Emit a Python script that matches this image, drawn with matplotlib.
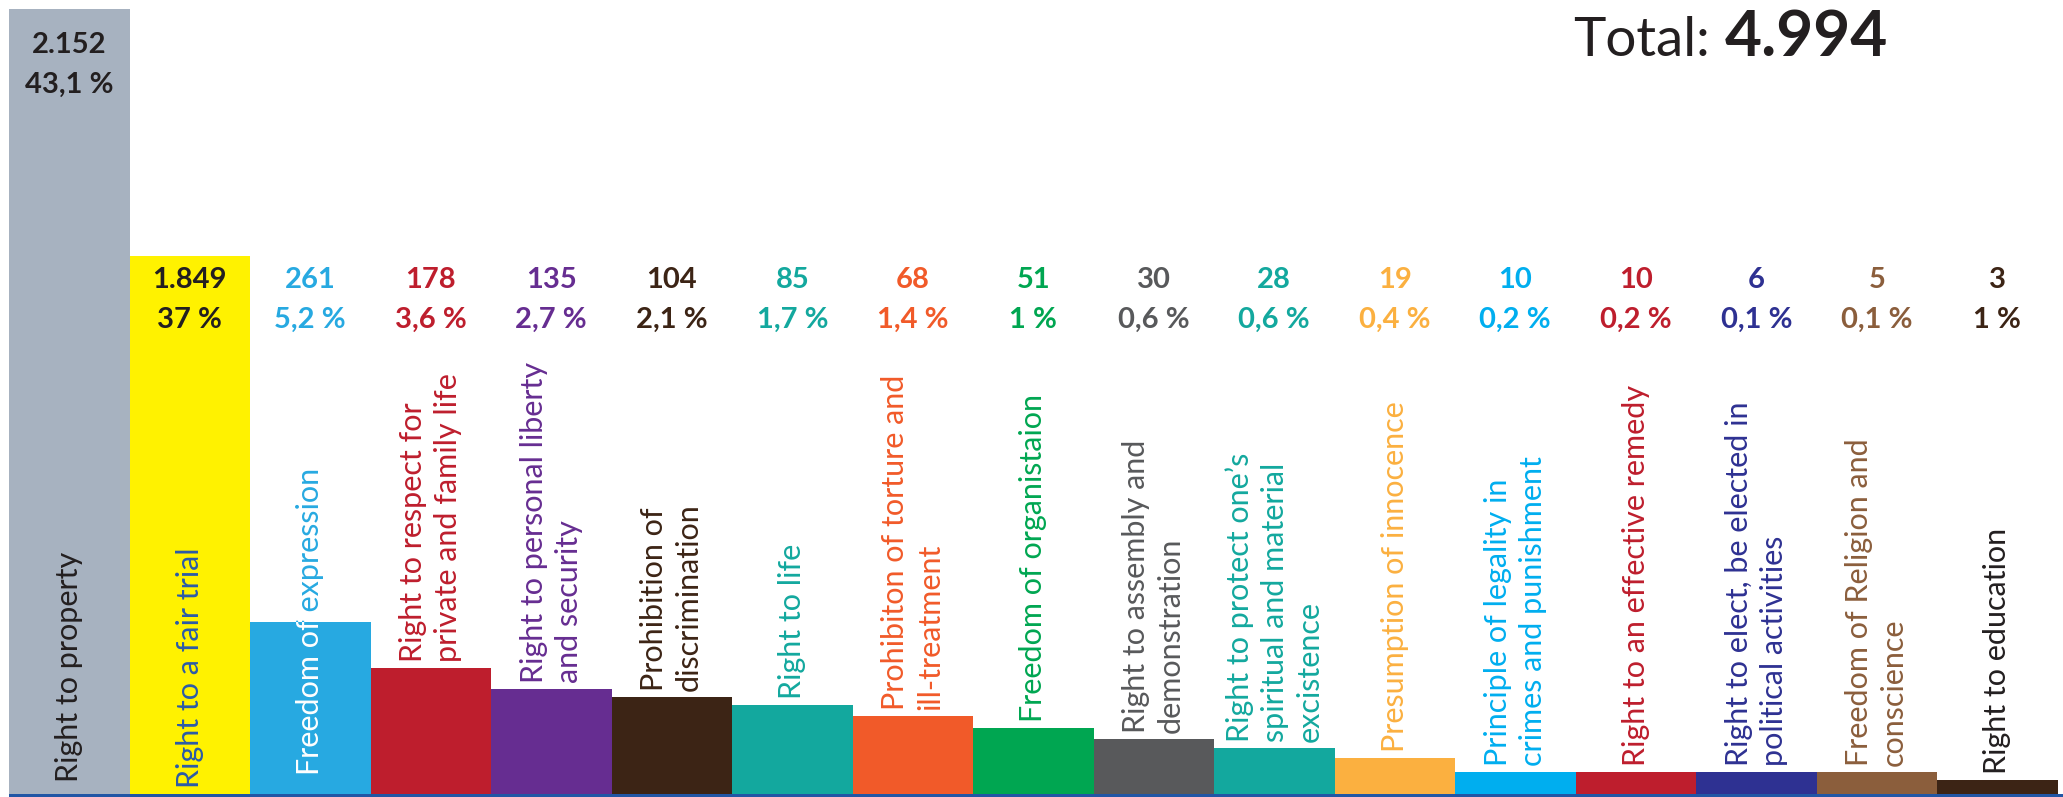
import matplotlib
matplotlib.use('Agg')
import matplotlib.pyplot as plt
from matplotlib.patches import Rectangle

plt.rcParams['font.family'] = ['Lato', 'DejaVu Sans']

# data
categories = [
    "Right to property",
    "Right to a fair trial",
    "Freedom of expression",
    "Right to respect for\nprivate and family life",
    "Right to personal liberty\nand security",
    "Prohibition of\ndiscrimination",
    "Right to life",
    "Prohibiton of torture and\nill-treatment",
    "Freedom of organistaion",
    "Right to assembly and\ndemonstration",
    "Right to protect one\u2019s\nspiritual and material\nexcistence",
    "Presumption of innocence",
    "Principle of legality in\ncrimes and punishment",
    "Right to an effective remedy",
    "Right to elect, be elected in\npolitical activities",
    "Freedom of Religion and\nconscience",
    "Right to education",
]
values = [2152, 1849, 261, 178, 135, 104, 85, 68, 51, 30, 28, 19, 10, 10, 6, 5, 3]
pct_labels = ["43,1 %", "37 %", "5,2 %", "3,6 %", "2,7 %", "2,1 %", "1,7 %", "1,4 %",
              "1 %", "0,6 %", "0,6 %", "0,4 %", "0,2 %", "0,2 %", "0,1 %", "0,1 %", "1 %"]
total = 4994
# drawn bar heights (the infographic is not to scale), in pixels of the original
bar_heights = [785, 538, 172, 126, 105, 97, 89, 78, 66, 55, 46, 36, 22, 22, 22, 22, 14]

bar_colors = ['#a7b2c0', '#fff200', '#27a9e1', '#be1e2d', '#662d91', '#3c2415',
              '#13a89e', '#f15a29', '#00a651', '#58595b', '#13a89e', '#fbb040',
              '#00aeef', '#be1e2d', '#2e3192', '#8b5e3c', '#3c2415']
label_colors = ['#231f20', '#2b5ba8', '#27a9e1', '#be1e2d', '#662d91', '#3c2415',
                '#13a89e', '#f15a29', '#00a651', '#58595b', '#13a89e', '#fbb040',
                '#00aeef', '#be1e2d', '#2e3192', '#8b5e3c', '#231f20']
value_colors = ['#231f20', '#231f20'] + bar_colors[2:16] + ['#3c2415']

W, H = 2063, 797
fig = plt.figure(figsize=(W / 100, H / 100), dpi=100)
ax = fig.add_axes([0, 0, 1, 1])
bw = 120.5
x0 = 9
ax.set_xlim(-x0 / bw, (W - x0) / bw)
ax.set_ylim(-3, H - 3)
ax.axis('off')

xs = [i + 0.5 for i in range(len(values))]
bars = ax.bar(xs, bar_heights, width=1.0, color=bar_colors, linewidth=0)

# blue baseline
ax.add_patch(Rectangle((0, -3), (W - x0) / bw, 3, color='#2156a5', lw=0, clip_on=False))

inside = {0: 12, 1: 6, 2: 19}
for i, (x, h, lab) in enumerate(zip(xs, bar_heights, categories)):
    y = inside.get(i, h + 6)
    kw = dict(rotation=90, ha='center', va='bottom', multialignment='left',
              fontsize=22, linespacing=1.3)
    ax.text(x, y, lab, color=label_colors[i], **kw)
    if i == 2:
        # part of the label inside the bar is white
        tw = ax.text(x, y, lab, color='white', clip_on=True, **kw)
        tw.set_clip_path(bars[i])

# value labels
for i, (x, v, p) in enumerate(zip(xs, values, pct_labels)):
    ny, py = (749, 709) if i == 0 else (514, 474)
    ax.text(x, ny, f"{v:,}".replace(',', '.'), ha='center', va='center',
            fontsize=21, fontweight='bold', color=value_colors[i])
    ax.text(x, py, p, ha='center', va='center',
            fontsize=21, fontweight='bold', color=value_colors[i])

fig.text(1573 / W, 1 - 56 / H, "Total:", fontsize=39.5, color='#231f20', va='baseline')
fig.text(1725 / W, 1 - 56 / H, f"{total:,}".replace(',', '.'), fontsize=46,
         fontweight='bold', color='#231f20', va='baseline')

fig.savefig('out.png', dpi=100, facecolor='white')
